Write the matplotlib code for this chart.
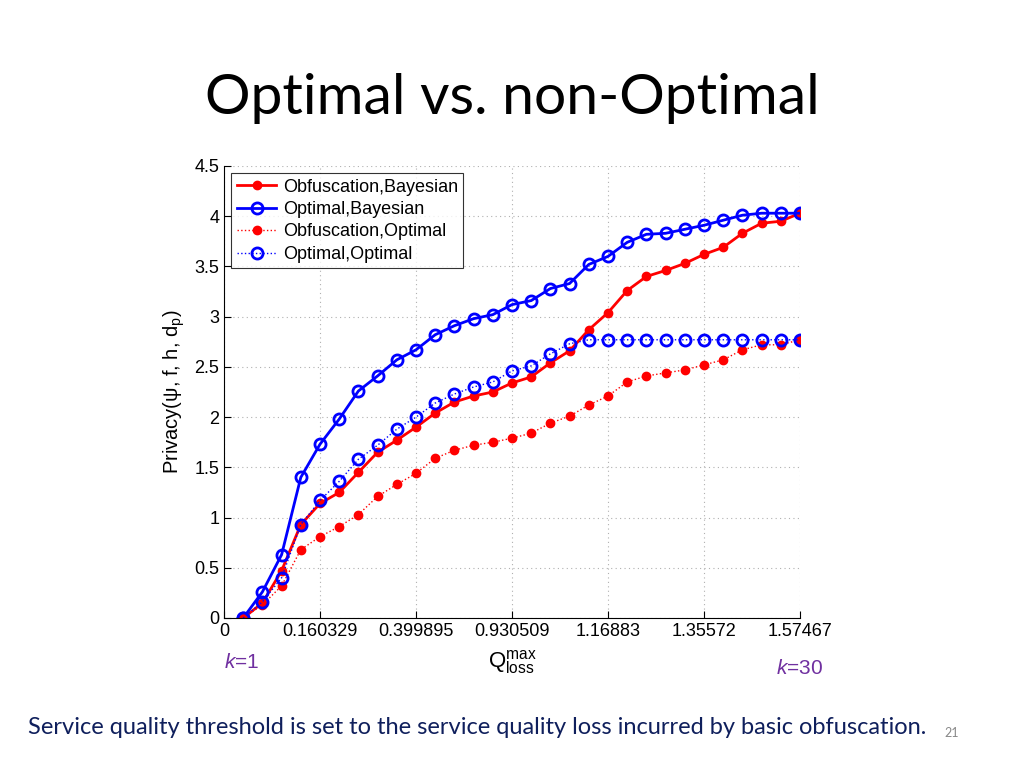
import numpy as np
import matplotlib.pyplot as plt
from matplotlib.ticker import FuncFormatter

plt.rcParams['font.family'] = ['Liberation Sans', 'DejaVu Sans']
plt.rcParams['mathtext.fontset'] = 'custom'
plt.rcParams['mathtext.rm'] = 'Liberation Sans'
plt.rcParams['mathtext.it'] = 'Liberation Sans:italic'

# k = 1..30
k = np.arange(1, 31)

obf_bayes = [0, 0.15, 0.47, 0.93, 1.14, 1.25, 1.45, 1.65, 1.77, 1.90,
             2.04, 2.15, 2.21, 2.25, 2.34, 2.40, 2.54, 2.66, 2.87, 3.04,
             3.26, 3.40, 3.46, 3.53, 3.62, 3.69, 3.83, 3.93, 3.95, 4.03]
opt_bayes = [0, 0.26, 0.63, 1.40, 1.73, 1.98, 2.26, 2.41, 2.57, 2.67,
             2.82, 2.91, 2.98, 3.02, 3.12, 3.16, 3.28, 3.33, 3.52, 3.60,
             3.74, 3.82, 3.83, 3.87, 3.91, 3.96, 4.01, 4.03, 4.03, 4.03]
obf_opt = [0, 0.13, 0.32, 0.68, 0.81, 0.91, 1.03, 1.21, 1.33, 1.44,
           1.59, 1.67, 1.72, 1.75, 1.79, 1.84, 1.94, 2.01, 2.12, 2.21,
           2.35, 2.41, 2.44, 2.47, 2.52, 2.57, 2.67, 2.72, 2.72, 2.77]
opt_opt = [0, 0.16, 0.40, 0.93, 1.17, 1.36, 1.58, 1.72, 1.88, 2.00,
           2.14, 2.23, 2.30, 2.35, 2.46, 2.51, 2.63, 2.73, 2.77, 2.77,
           2.77, 2.77, 2.77, 2.77, 2.77, 2.77, 2.77, 2.77, 2.77, 2.77]

xtick_pos = [0, 5, 10, 15, 20, 25, 30]
xtick_labels = ["0", "0.160329", "0.399895", "0.930509", "1.16883", "1.35572", "1.57467"]

fig = plt.figure(figsize=(10.24, 7.68), dpi=100)
ax = fig.add_axes([224 / 1024, 1 - 618 / 768, 576 / 1024, 452 / 768])

ax.plot(k, obf_bayes, '-', color='red', lw=2, marker='o', ms=6,
        mfc='red', mec='red', label='Obfuscation,Bayesian')
ax.plot(k, opt_bayes, '-', color='#0000ff', lw=2, marker='o', ms=8,
        mfc='none', mec='#0000ff', mew=2, label='Optimal,Bayesian')
ax.plot(k, obf_opt, ':', color='red', lw=1.0, marker='o', ms=6,
        mfc='red', mec='red', label='Obfuscation,Optimal')
ax.plot(k, opt_opt, ':', color='#0000ff', lw=1.0, marker='o', ms=8,
        mfc='none', mec='#0000ff', mew=2, label='Optimal,Optimal')

ax.set_xlim(0, 30)
ax.set_ylim(0, 4.5)
ax.set_xticks(xtick_pos)
ax.set_xticklabels(xtick_labels)
ax.set_yticks(np.arange(0, 4.51, 0.5))
ax.yaxis.set_major_formatter(FuncFormatter(lambda v, p: ('%g' % v)))
ax.tick_params(direction='in', labelsize=13, length=5, width=0.8)
ax.grid(True, linestyle=(0, (1, 3)), color='#b0b0b0', lw=0.8)
ax.spines['top'].set_visible(False)
ax.spines['right'].set_visible(False)

ax.set_ylabel('Privacy(ψ, f, h, d$_\\mathregular{p}$)', fontsize=14.5, labelpad=5)
ax.set_xlabel(r'$\mathregular{Q_{loss}^{max}}$', fontsize=16, labelpad=6)

leg = ax.legend(loc='upper left', fontsize=13, frameon=True, fancybox=False,
                edgecolor='black', borderpad=0.3, labelspacing=0.3,
                handlelength=2.2, handletextpad=0.35, borderaxespad=0.4)
leg.get_frame().set_linewidth(0.8)

fig.text(512 / 1024, 1 - 98 / 768, 'Optimal vs. non-Optimal', fontsize=41,
         family=['Lato', 'DejaVu Sans'], ha='center', va='center')

fig.text(242 / 1024, 1 - 663 / 768, r'$\mathit{k}$=1', fontsize=15,
         color='#7030a0', ha='center', va='center')
fig.text(800 / 1024, 1 - 668 / 768, r'$\mathit{k}$=30', fontsize=15,
         color='#7030a0', ha='center', va='center')

fig.text(28 / 1024, 1 - 727 / 768,
         'Service quality threshold is set to the service quality loss incurred by basic obfuscation.',
         fontsize=17, color='#0f1f5c', family=['Lato', 'DejaVu Sans'], ha='left', va='center')
fig.text(952 / 1024, 1 - 733 / 768, '21', fontsize=9, color='#888888',
         family=['Lato', 'DejaVu Sans'], ha='center', va='center')

fig.savefig('out.png', dpi=100)
